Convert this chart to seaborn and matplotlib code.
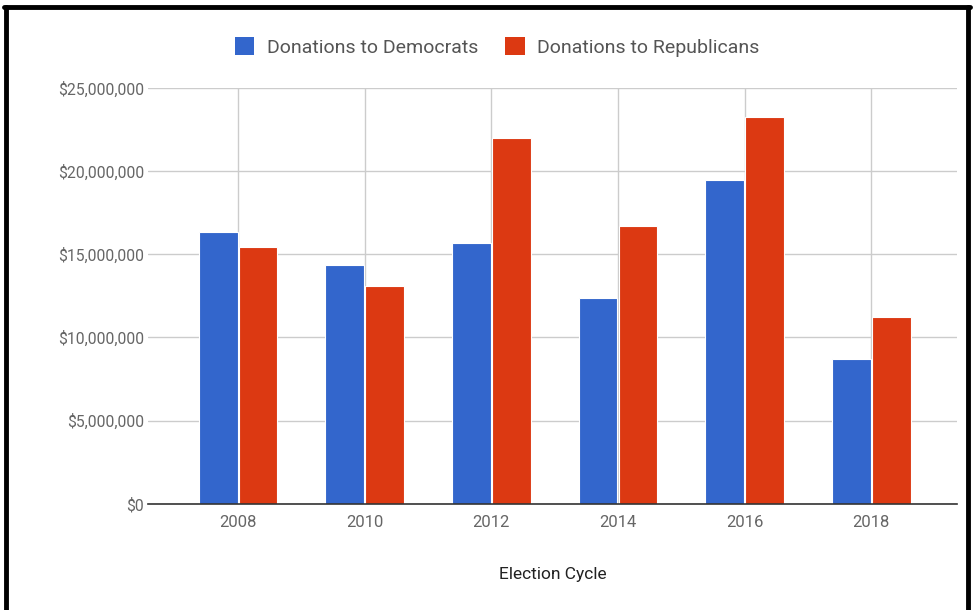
import matplotlib.pyplot as plt
import matplotlib.ticker as mticker
from matplotlib.lines import Line2D
from matplotlib.patches import Patch
import seaborn as sns
import pandas as pd

# values
years = ['2008', '2010', '2012', '2014', '2016', '2018']
democrats = [16350000, 14350000, 15650000, 12350000, 19450000, 8700000]
republicans = [15450000, 13100000, 22000000, 16700000, 23250000, 11250000]
series_names = ['Donations to Democrats', 'Donations to Republicans']
colors = ['#3366cc', '#dc3912']

df = pd.DataFrame({
    'Election Cycle': years * 2,
    'Amount': democrats + republicans,
    'Series': [series_names[0]] * len(years) + [series_names[1]] * len(years),
})

sns.set_style('white')
plt.rcParams['font.family'] = ['Roboto', 'DejaVu Sans']

fig = plt.figure(figsize=(9.75, 6.1), dpi=100)
ax = fig.add_axes([0.152, 0.174, 0.830, 0.682])

sns.barplot(data=df, x='Election Cycle', y='Amount', hue='Series',
            palette=colors, width=0.63, gap=0.03, saturation=1,
            edgecolor='white', linewidth=0.8, ax=ax, legend=False)

ax.set_ylim(0, 25000000)
ax.set_xlim(-0.71, 5.68)
ax.yaxis.set_major_locator(mticker.MultipleLocator(5000000))
ax.yaxis.set_major_formatter(mticker.FuncFormatter(lambda v, p: f'${v:,.0f}'))

ax.grid(True, axis='both', color='#cccccc', linewidth=1)
ax.set_axisbelow(True)
for side in ['top', 'right', 'left']:
    ax.spines[side].set_visible(False)
ax.spines['bottom'].set_color('#333333')
ax.spines['bottom'].set_linewidth(1.2)
ax.tick_params(axis='both', length=0, labelcolor='#666666')
ax.tick_params(axis='x', pad=8, labelsize=12)
ax.tick_params(axis='y', pad=3, labelsize=11.3)
ax.set_ylabel('')
ax.set_xlabel('Election Cycle', fontsize=12.5, color='#222222', labelpad=27)

handles = [Patch(facecolor=c, edgecolor='none') for c in colors]
fig.legend(handles, series_names, loc='center', bbox_to_anchor=(0.51, 0.923),
           ncol=2, frameon=False, fontsize=14, handlelength=1.0, handleheight=1.0,
           handletextpad=0.65, columnspacing=1.4, labelcolor='#555555')

# black frame around the picture (no bottom edge)
fig.add_artist(Line2D([0.006, 0.006], [0.0, 0.988], color='black', linewidth=3.5, transform=fig.transFigure))
fig.add_artist(Line2D([0.004, 0.995], [0.988, 0.988], color='black', linewidth=3.5, transform=fig.transFigure))
fig.add_artist(Line2D([0.993, 0.993], [0.0, 0.988], color='black', linewidth=3.5, transform=fig.transFigure))

fig.savefig('out.png', dpi=100)
